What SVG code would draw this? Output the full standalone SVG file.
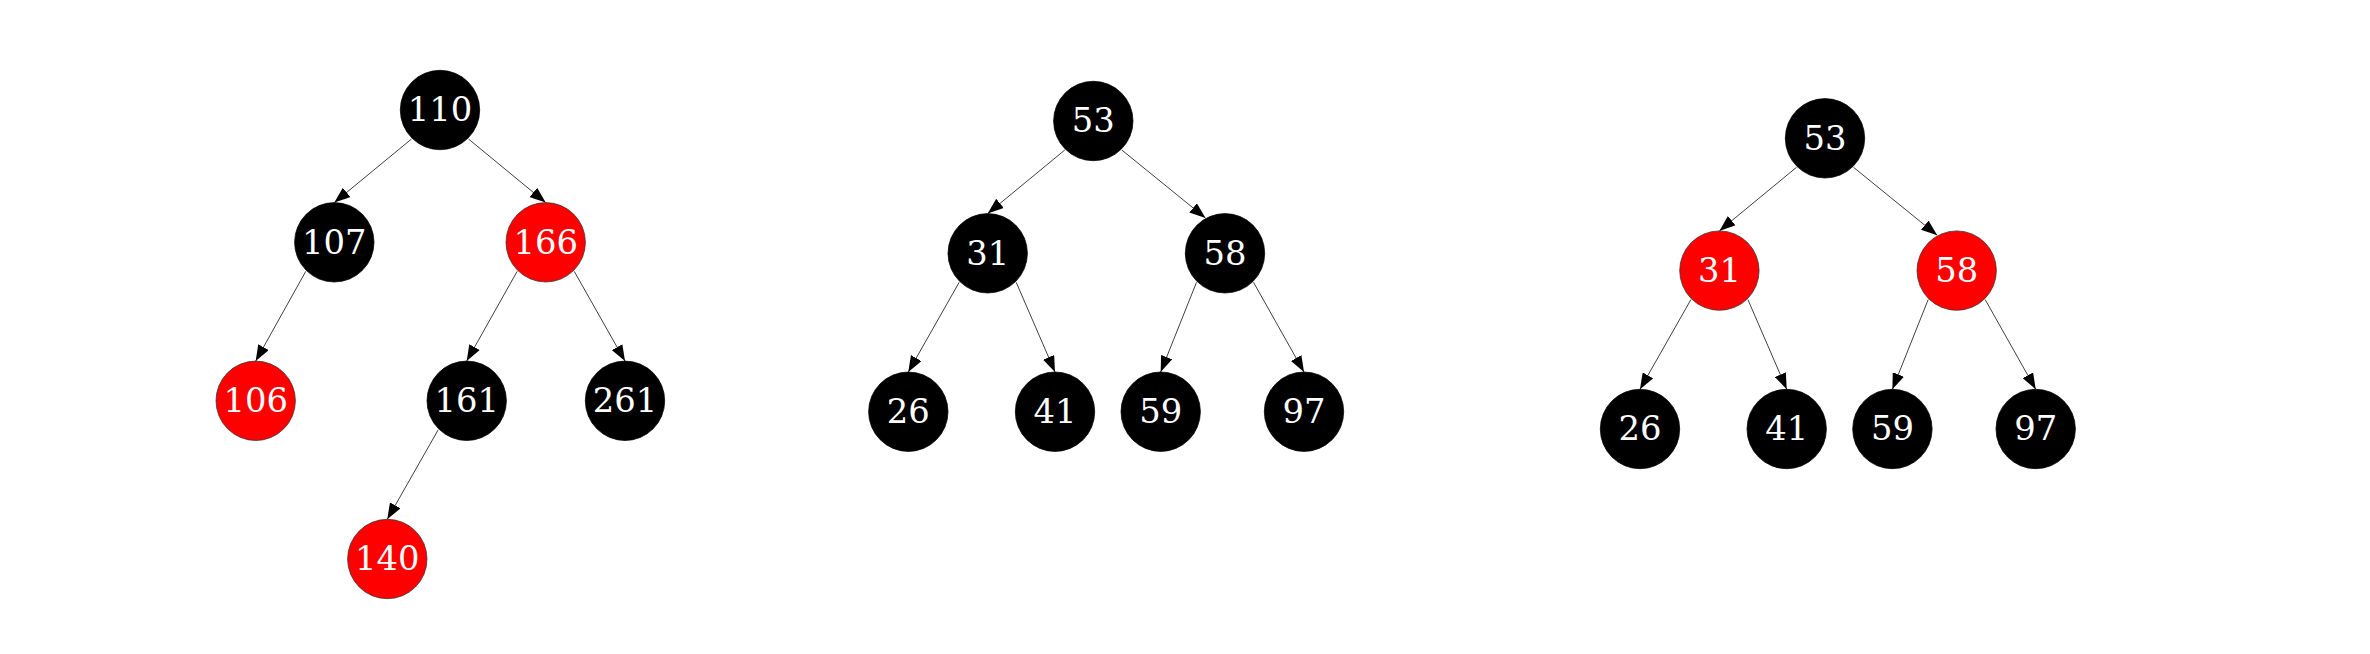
<svg xmlns="http://www.w3.org/2000/svg" width="2370" height="654" viewBox="0 0 2370 654">
<style>
.b{fill:#000;stroke:#000;stroke-width:0.75}
.r{fill:#ff0000;stroke:#333;stroke-width:0.75}
.t{font-family:"DejaVu Serif","Liberation Serif",serif;font-size:33.8px;fill:#fff;text-anchor:middle}
.e{stroke:#000;stroke-width:0.75;fill:none;marker-end:url(#arr)}
</style>
<defs>
<marker id="arr" markerUnits="userSpaceOnUse" viewBox="0 0 16 12" markerWidth="16" markerHeight="12" refX="16" refY="6" orient="auto">
<path d="M0,0 L16,6 L0,12 z" fill="#000"/>
</marker>
</defs>
<rect width="2370" height="654" fill="#fff"/>
<g id="connectors">
<line class="e" x1="411.5" y1="139" x2="334.3" y2="202.6"/>
<line class="e" x1="468.5" y1="139" x2="545.7" y2="202.6"/>
<line class="e" x1="305.8" y1="271.3" x2="255.7" y2="361.1"/>
<line class="e" x1="517.2" y1="271.3" x2="466.7" y2="361.1"/>
<line class="e" x1="574.2" y1="271.3" x2="625" y2="361.1"/>
<line class="e" x1="438.2" y1="429.8" x2="387.3" y2="519.3"/>
<line class="e" x1="1064.8" y1="150" x2="987.7" y2="213.6"/>
<line class="e" x1="1121.8" y1="150" x2="1205.5" y2="218"/>
<line class="e" x1="959.2" y1="282.3" x2="908.3" y2="372"/>
<line class="e" x1="1016.2" y1="282.3" x2="1055" y2="372"/>
<line class="e" x1="1196.5" y1="282.3" x2="1160.7" y2="372"/>
<line class="e" x1="1253.5" y1="282.3" x2="1304" y2="372"/>
<line class="e" x1="1796.5" y1="167.3" x2="1719.4" y2="230.9"/>
<line class="e" x1="1853.5" y1="167.3" x2="1937.2" y2="235.3"/>
<line class="e" x1="1690.9" y1="299.6" x2="1640" y2="389.3"/>
<line class="e" x1="1747.9" y1="299.6" x2="1786.7" y2="389.3"/>
<line class="e" x1="1928.2" y1="299.6" x2="1892.4" y2="389.3"/>
<line class="e" x1="1985.2" y1="299.6" x2="2035.7" y2="389.3"/>
</g>
<g id="t1-110"><circle class="b" cx="440" cy="110" r="39.7"/><text class="t" x="440" y="121.2">110</text></g>
<g id="t1-107"><circle class="b" cx="334.3" cy="242.3" r="39.7"/><text class="t" x="334.3" y="253.5">107</text></g>
<g id="t1-166"><circle class="r" cx="545.7" cy="242.3" r="39.7"/><text class="t" x="545.7" y="253.5">166</text></g>
<g id="t1-106"><circle class="r" cx="255.7" cy="400.8" r="39.7"/><text class="t" x="255.7" y="412">106</text></g>
<g id="t1-161"><circle class="b" cx="466.7" cy="400.8" r="39.7"/><text class="t" x="466.7" y="412">161</text></g>
<g id="t1-261"><circle class="b" cx="625" cy="400.8" r="39.7"/><text class="t" x="625" y="412">261</text></g>
<g id="t1-140"><circle class="r" cx="387.3" cy="559" r="39.7"/><text class="t" x="387.3" y="570.2">140</text></g>
<g id="t2-53"><circle class="b" cx="1093.3" cy="121" r="39.7"/><text class="t" x="1093.3" y="132.2">53</text></g>
<g id="t2-31"><circle class="b" cx="987.7" cy="253.3" r="39.7"/><text class="t" x="987.7" y="264.5">31</text></g>
<g id="t2-58"><circle class="b" cx="1225" cy="253.3" r="39.7"/><text class="t" x="1225" y="264.5">58</text></g>
<g id="t2-26"><circle class="b" cx="908.3" cy="411.7" r="39.7"/><text class="t" x="908.3" y="422.9">26</text></g>
<g id="t2-41"><circle class="b" cx="1055" cy="411.7" r="39.7"/><text class="t" x="1055" y="422.9">41</text></g>
<g id="t2-59"><circle class="b" cx="1160.7" cy="411.7" r="39.7"/><text class="t" x="1160.7" y="422.9">59</text></g>
<g id="t2-97"><circle class="b" cx="1304" cy="411.7" r="39.7"/><text class="t" x="1304" y="422.9">97</text></g>
<g id="t3-53"><circle class="b" cx="1825" cy="138.3" r="39.7"/><text class="t" x="1825" y="149.5">53</text></g>
<g id="t3-31"><circle class="r" cx="1719.4" cy="270.6" r="39.7"/><text class="t" x="1719.4" y="281.8">31</text></g>
<g id="t3-58"><circle class="r" cx="1956.7" cy="270.6" r="39.7"/><text class="t" x="1956.7" y="281.8">58</text></g>
<g id="t3-26"><circle class="b" cx="1640" cy="429" r="39.7"/><text class="t" x="1640" y="440.2">26</text></g>
<g id="t3-41"><circle class="b" cx="1786.7" cy="429" r="39.7"/><text class="t" x="1786.7" y="440.2">41</text></g>
<g id="t3-59"><circle class="b" cx="1892.4" cy="429" r="39.7"/><text class="t" x="1892.4" y="440.2">59</text></g>
<g id="t3-97"><circle class="b" cx="2035.7" cy="429" r="39.7"/><text class="t" x="2035.7" y="440.2">97</text></g>
</svg>
